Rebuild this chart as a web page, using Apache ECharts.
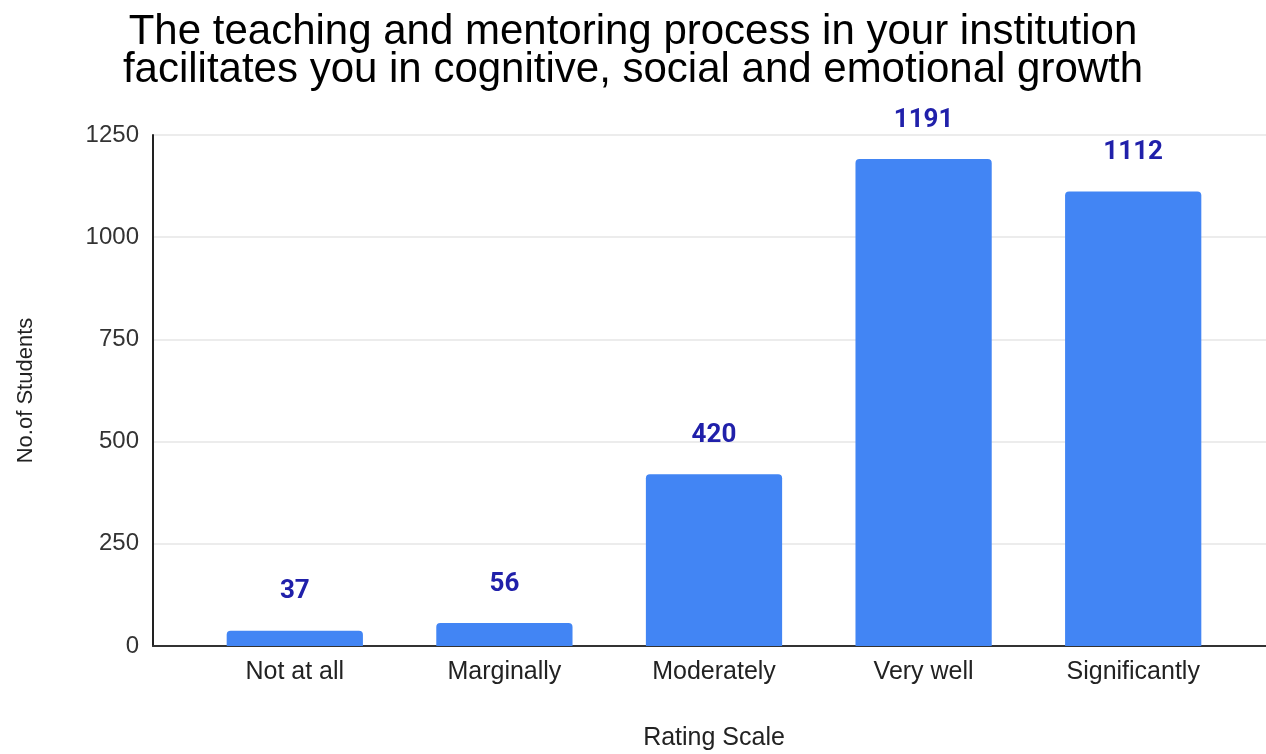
<!DOCTYPE html>
<html>
<head>
<meta charset="utf-8">
<script src="https://cdn.jsdelivr.net/npm/echarts@6/dist/echarts.min.js"></script>
<style>
html,body{margin:0;padding:0;background:#fff;}
#chart{width:1266px;height:754px;}
</style>
</head>
<body>
<div id="chart"></div>
<script>
var categories = ['Not at all', 'Marginally', 'Moderately', 'Very well', 'Significantly'];
var students = [37, 56, 420, 1191, 1112];
var yTicks = [0, 250, 500, 750, 1000, 1250];

var chart = echarts.init(document.getElementById('chart'));
chart.setOption({
    animation: false,
    title: {
        text: 'The teaching and mentoring process in your institution\nfacilitates you in cognitive, social and emotional growth',
        left: 'center',
        top: 8,
        textStyle: {
            fontFamily: 'Liberation Sans',
            fontWeight: 'normal',
            fontSize: 42,
            lineHeight: 38,
            color: '#000'
        }
    },
    // grid 0 = wide axis frame, grid 1 = bars
    grid: [
        {left: 153, right: 0, top: 135, bottom: 108, outerBoundsMode: 'none'},
        {left: 190, right: 28, top: 135, bottom: 108, outerBoundsMode: 'none'}
    ],
    xAxis: [
        {
            gridIndex: 0,
            type: 'value',
            min: 0,
            max: 1,
            axisLine: {show: true, lineStyle: {color: '#333', width: 2}},
            axisTick: {show: false},
            axisLabel: {show: false},
            splitLine: {show: false}
        },
        {
            gridIndex: 1,
            type: 'category',
            data: categories,
            axisLine: {show: false},
            axisTick: {show: false},
            axisLabel: {
                fontFamily: 'Liberation Sans',
                fontSize: 25,
                color: '#222',
                margin: 14
            },
            name: 'Rating Scale',
            nameLocation: 'middle',
            nameGap: 80,
            nameTextStyle: {
                fontFamily: 'Liberation Sans',
                fontSize: 25,
                color: '#222'
            }
        }
    ],
    yAxis: [
        {
            gridIndex: 0,
            type: 'value',
            min: yTicks[0],
            max: yTicks[yTicks.length - 1],
            interval: 250,
            axisLine: {show: true, lineStyle: {color: '#222', width: 2}},
            axisTick: {show: false},
            axisLabel: {
                fontFamily: 'Liberation Sans',
                fontSize: 24,
                color: '#333',
                margin: 14,
                formatter: function (v) { return String(v); }
            },
            splitLine: {lineStyle: {color: '#e6e6e6', width: 1.5}},
            name: 'No.of Students',
            nameLocation: 'middle',
            nameGap: 116,
            nameTextStyle: {
                fontFamily: 'Liberation Sans',
                fontSize: 22,
                color: '#222'
            }
        },
        {
            gridIndex: 1,
            type: 'value',
            min: yTicks[0],
            max: yTicks[yTicks.length - 1],
            show: false
        }
    ],
    series: [
        {
            type: 'bar',
            xAxisIndex: 1,
            yAxisIndex: 1,
            data: students,
            barWidth: '65%',
            itemStyle: {color: '#4285f4', borderRadius: [4, 4, 0, 0]},
            label: {
                show: true,
                position: 'top',
                distance: 26,
                fontFamily: 'Roboto',
                fontWeight: 'bold',
                fontSize: 26,
                color: '#2020aa'
            }
        }
    ]
});
</script>
</body>
</html>
